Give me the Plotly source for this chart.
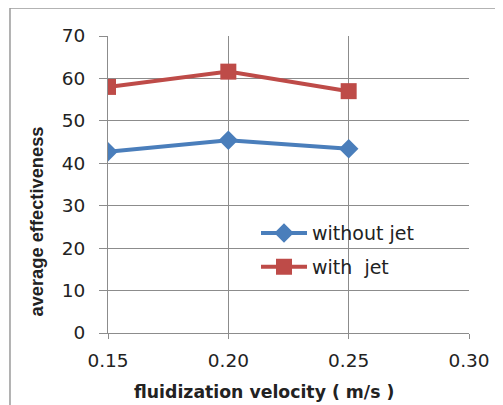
import plotly.graph_objects as go

velocity = [0.15, 0.20, 0.25]
without_jet = [42.7, 45.4, 43.4]
with_jet = [58.0, 61.6, 57.0]
x_ticks = [0.15, 0.20, 0.25, 0.30]
x_tick_labels = ["0.15", "0.20", "0.25", "0.30"]
y_ticks = [0, 10, 20, 30, 40, 50, 60, 70]
x_title = "<b>fluidization velocity ( m/s )</b>"
y_title = "<b>average effectiveness</b>"

fig = go.Figure()
fig.add_trace(go.Scatter(
    x=velocity, y=without_jet, name="without jet", mode="lines+markers",
    legendgroup="a",
    line=dict(color="#4a7ebb", width=4),
    marker=dict(symbol="diamond", size=15, color="#4a7ebb"),
))
fig.add_trace(go.Scatter(
    x=velocity, y=with_jet, name="with  jet", mode="lines+markers",
    legendgroup="b",
    line=dict(color="#be4b48", width=4),
    marker=dict(symbol="square", size=16, color="#be4b48"),
))

grid = "#8c8c8c"
txt = "#222222"
tick_font = dict(family="DejaVu Sans, sans-serif", size=18.5, color=txt)
fig.update_layout(
    width=503, height=405,
    margin=dict(l=100, r=42, t=28, b=80),
    paper_bgcolor="white", plot_bgcolor="white",
    font=dict(family="DejaVu Sans, sans-serif", color=txt),
    showlegend=True,
    legend=dict(x=0.41, y=0.40, xanchor="left", yanchor="top",
                bgcolor="rgba(0,0,0,0)",
                font=dict(family="DejaVu Sans, sans-serif", size=19, color=txt),
                itemwidth=46, traceorder="grouped", tracegroupgap=6),
    xaxis=dict(range=[0.15, 0.30], tickvals=x_ticks, ticktext=x_tick_labels,
               showgrid=True, gridcolor=grid, gridwidth=1,
               zeroline=False, showline=True, linecolor=grid,
               ticks="outside", ticklen=5, tickcolor=grid,
               ticklabelstandoff=6,
               tickfont=tick_font),
    yaxis=dict(range=[0, 70], tickvals=y_ticks,
               showgrid=True, gridcolor=grid, gridwidth=1,
               zeroline=False, showline=True, linecolor=grid,
               ticks="outside", ticklen=8, tickcolor=grid,
               ticklabelstandoff=10,
               tickfont=tick_font),
)
fig.add_annotation(text=x_title, xref="paper", yref="paper",
                   x=0.432, y=-0.198, xanchor="center", yanchor="middle",
                   showarrow=False,
                   font=dict(family="DejaVu Sans, sans-serif", size=17.3, color=txt))
fig.add_annotation(text=y_title, xref="paper", yref="paper",
                   x=-0.197, y=0.375, xanchor="center", yanchor="middle",
                   textangle=-90, showarrow=False,
                   font=dict(family="Liberation Sans, Arial, sans-serif", size=18.3, color=txt))
fig.add_shape(type="rect", xref="paper", yref="paper",
              x0=-0.2715, x1=1.3, y0=-0.4, y1=1.094,
              line=dict(color="#9a9a9a", width=1.5), layer="below")

fig.write_html("out.html")
